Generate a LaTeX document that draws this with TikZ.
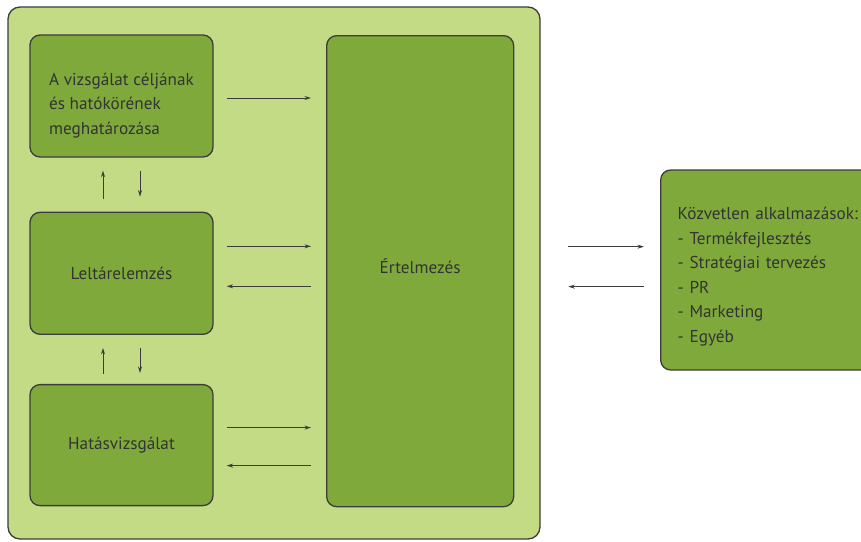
\documentclass[tikz,border=0pt]{standalone}
\usepackage{fontspec}
\setmainfont{PT Sans}
\usetikzlibrary{positioning, arrows.meta}
\definecolor{lightgreen}{HTML}{C4DB85}
\definecolor{boxgreen}{HTML}{7FAA3B}
\definecolor{edgegray}{HTML}{3C3C3C}
\definecolor{textgray}{HTML}{333333}

\begin{document}
\begin{tikzpicture}[x=1pt, y=-1pt, >={Stealth[length=6.5pt,width=4pt]},
    stage/.style={rectangle, rounded corners=10pt, draw=edgegray, line width=1.3pt, fill=boxgreen, text=textgray, font=\fontsize{17.2}{24.5}\selectfont, minimum width=183pt, minimum height=122pt, align=left},
    flow/.style={->, line width=0.9pt, edgegray}]
    \useasboundingbox (0,0) rectangle (861,541);
    % Background panel
    \node[rectangle, rounded corners=12pt, draw=edgegray, line width=1.3pt, fill=lightgreen, minimum width=532pt, minimum height=532pt] (panel) at (274,273) {};

    % Nodes
    \node[stage] (goal) at (121.5,96) {\rule{0pt}{31pt}A vizsgálat céljának\\és hatókörének\\meghatározása};
    \node[stage, below=54pt of goal] (inventory) {Leltárelemzés};
    \node[stage, below=49pt of inventory, minimum height=121pt] (impact) {Hatásvizsgálat};
    \node[stage, anchor=north west, minimum width=187pt, minimum height=471pt] (meaning) at (326,35) {Értelmezés\rule[-11pt]{0pt}{11pt}};
    \node[stage, anchor=west, minimum height=200pt, text width=210pt, inner xsep=17pt] (uses) at (660,270) {\rule{0pt}{26pt}Közvetlen alkalmazások:\\- Termékfejlesztés\\- Stratégiai tervezés\\- PR\\- Marketing\\- Egyéb};

    % Connections
    \draw[flow] ([xshift=13pt, yshift=-2pt]goal.east) -- ([xshift=-15pt, yshift=-2pt]goal.east -| meaning.west);
    \draw[flow] ([xshift=13pt, yshift=27pt]inventory.east) -- ([xshift=-15pt, yshift=27pt]inventory.east -| meaning.west);
    \draw[flow] ([xshift=-15pt, yshift=-13pt]inventory.east -| meaning.west) -- ([xshift=13pt, yshift=-13pt]inventory.east);
    \draw[flow] ([xshift=13pt, yshift=17.5pt]impact.east) -- ([xshift=-15pt, yshift=17.5pt]impact.east -| meaning.west);
    \draw[flow] ([xshift=-15pt, yshift=-20.5pt]impact.east -| meaning.west) -- ([xshift=13pt, yshift=-20.5pt]impact.east);
    \draw[flow] ([xshift=54pt, yshift=24.5pt]meaning.east) -- ([xshift=-16pt, yshift=24.5pt]meaning.east -| uses.west);
    \draw[flow] ([xshift=-16pt, yshift=-15.5pt]meaning.east -| uses.west) -- ([xshift=54pt, yshift=-15.5pt]meaning.east);

    % Vertical links
    \draw[flow] ([xshift=-18.5pt, yshift=13pt]inventory.north) -- ([xshift=-18.5pt, yshift=-13pt]goal.south);
    \draw[flow] ([xshift=18.5pt, yshift=-13pt]goal.south) -- ([xshift=18.5pt, yshift=15pt]inventory.north);
    \draw[flow] ([xshift=-18.5pt, yshift=10pt]impact.north) -- ([xshift=-18.5pt, yshift=-13pt]inventory.south);
    \draw[flow] ([xshift=18.5pt, yshift=-13pt]inventory.south) -- ([xshift=18.5pt, yshift=11pt]impact.north);
\end{tikzpicture}
\end{document}
